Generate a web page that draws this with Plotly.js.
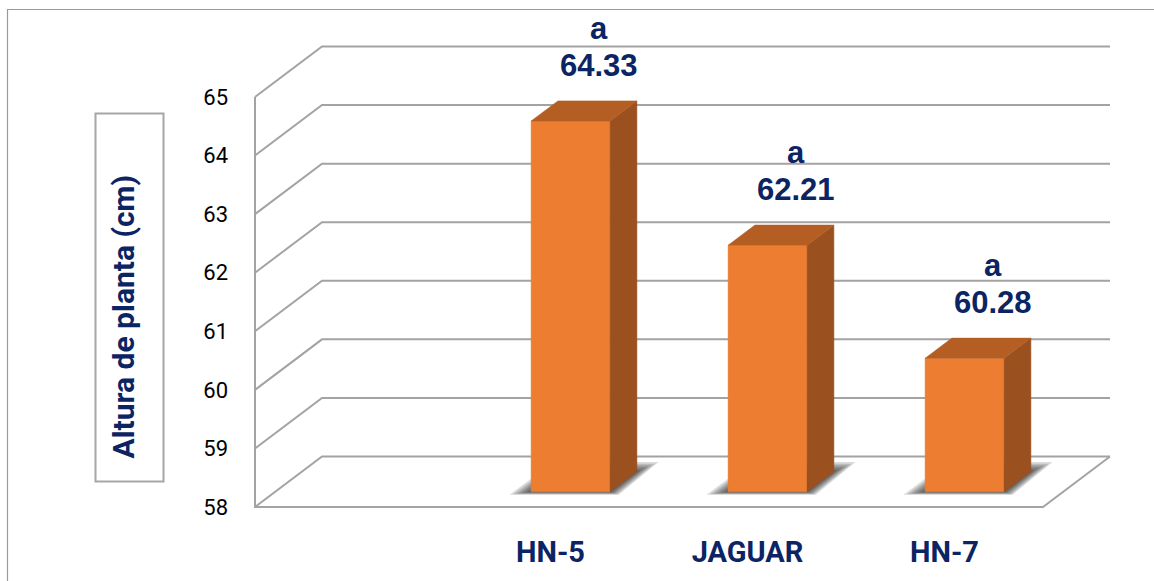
<!DOCTYPE html>
<html><head><meta charset="utf-8">
<script src="https://cdn.plot.ly/plotly-3.0.1.min.js"></script>
<style>html,body{margin:0;padding:0;background:#fff;}#chart{width:1154px;height:581px;}</style>
</head><body><div id="chart"></div>
<script>
// ---- data ----
const categories = ['HN-5', 'JAGUAR', 'HN-7'];
const values = [64.33, 62.21, 60.28];
const letters = ['a', 'a', 'a'];
const yTicks = [58, 59, 60, 61, 62, 63, 64, 65];
const yTitle = 'Altura de planta (cm)';

// ---- styling / geometry ----
const NAVY = '#0b2463';
const GRID = '#a3a3a3';
const W = 1154, H = 581;
const L = 240, R = 1125, T = 15, B = 520;        // plot area in px
const pxX = 197, x0px = 255, xStart = -1.5;       // one empty slot before first category
const pxY = 410 / 7, y0px = 507, yBase = yTicks[0];
const xEnd = categories.length - 0.5;
const xr = [xStart + (L - x0px) / pxX, xStart + (R - x0px) / pxX];
const yr = [yBase - (B - y0px) / pxY, yBase + (y0px - T) / pxY];
const DX = 67 / pxX, DY = 50.5 / pxY;              // full depth of the 3D box (data units)
const F = 0.3, D = 0.4, BW = 79 / pxX;             // bar plane depth, bar depth, bar width
const yTop = yTicks[yTicks.length - 1];
const pX = px => (px - L) / (R - L), pY = py => (B - py) / (B - T);

const shapes = [];
// back-wall + side-wall gridlines
yTicks.forEach(v => {
  shapes.push({type: 'path', xref: 'x', yref: 'y', layer: 'below',
    path: `M${xStart},${v} L${xStart + DX},${v + DY} L${xEnd + DX},${v + DY}`,
    line: {color: GRID, width: 2}});
});
// floor front edge and right edge, left vertical axis line
shapes.push({type: 'path', xref: 'x', yref: 'y', layer: 'below',
  path: `M${xStart},${yTop} L${xStart},${yBase} L${xEnd},${yBase} L${xEnd + DX},${yBase + DY}`,
  line: {color: GRID, width: 2}});
// y title box
shapes.push({type: 'rect', xref: 'paper', yref: 'paper', x0: pX(95.5), x1: pX(163.5), y0: pY(481.5), y1: pY(113.5),
  line: {color: '#a6a6a6', width: 2}});
// outer chart border
shapes.push({type: 'rect', xref: 'paper', yref: 'paper', x0: pX(7.5), x1: pX(1175), y0: pY(620), y1: pY(9.5),
  line: {color: '#9a9a9a', width: 1.2}});

const traces = [];
const base = yBase + F * DY;
const cx = categories.map((c, i) => i + F * DX);
const dDX = D * DX, dDY = D * DY;

// shadows (layered to look blurred)
categories.forEach((c, i) => {
  const xl = cx[i] - BW / 2, xrr = cx[i] + BW / 2;
  for (let k = 0; k < 6; k++) {
    const e = (6 - k) * 3.6 / pxX, ey = (6 - k) * 1.6 / pxY;
    traces.push({type: 'scatter', mode: 'none', fill: 'toself', hoverinfo: 'skip', showlegend: false,
      fillcolor: 'rgba(0,0,0,0.14)',
      x: [xl - e, xrr + e * 0.4, xrr + dDX + e, xl + dDX - e * 0.2, xl - e],
      y: [base - ey * 0.3, base - ey * 0.3, base + dDY + ey, base + dDY + ey, base - ey * 0.3]});
  }
});

// bar faces: front, side, top
categories.forEach((c, i) => {
  const xl = cx[i] - BW / 2, xrr = cx[i] + BW / 2, vt = values[i] + F * DY;
  traces.push({type: 'scatter', mode: 'lines', fill: 'toself', hoverinfo: 'skip', showlegend: false,
    fillcolor: '#ED7D31', line: {color: '#ED7D31', width: 0.5},
    x: [xl, xrr, xrr, xl, xl], y: [base, base, vt, vt, base]});
  traces.push({type: 'scatter', mode: 'lines', fill: 'toself', hoverinfo: 'skip', showlegend: false,
    fillcolor: '#9A501F', line: {color: '#9A501F', width: 0.5},
    x: [xrr, xrr, xrr + dDX, xrr + dDX, xrr], y: [base, vt, vt + dDY, base + dDY, base]});
  traces.push({type: 'scatter', mode: 'lines', fill: 'toself', hoverinfo: 'skip', showlegend: false,
    fillcolor: '#B45E24', line: {color: '#B45E24', width: 0.5},
    x: [xl, xrr, xrr + dDX, xl + dDX, xl], y: [vt, vt, vt + dDY, vt + dDY, vt]});
});

const annotations = [];
categories.forEach((c, i) => {
  const ax = cx[i] + 28.5 / pxX, ay = values[i] + F * DY;
  annotations.push({xref: 'x', yref: 'y', x: ax, y: ay, yshift: 56, yanchor: 'middle', showarrow: false,
    text: values[i].toFixed(2), font: {family: 'Liberation Sans, Arial', size: 31, weight: 'bold', color: NAVY}});
  annotations.push({xref: 'x', yref: 'y', x: ax, y: ay, yshift: 93, yanchor: 'middle', showarrow: false,
    text: letters[i], font: {family: 'Liberation Sans, Arial', size: 31, weight: 'bold', color: NAVY}});
});
annotations.push({xref: 'paper', yref: 'paper', x: pX(122.5), y: pY(317), textangle: -90, showarrow: false,
  xanchor: 'center', yanchor: 'middle',
  text: yTitle, font: {family: 'Roboto', size: 30, weight: 'bold', color: NAVY}});

const layout = {
  width: W, height: H, margin: {l: L, r: W - R, t: T, b: H - B},
  paper_bgcolor: '#fff', plot_bgcolor: 'rgba(0,0,0,0)', showlegend: false,
  xaxis: {range: xr, tickvals: categories.map((c, i) => i), ticktext: categories, showgrid: false,
    zeroline: false, showline: false, ticks: '', ticklabelstandoff: 12,
    tickfont: {family: 'Roboto', size: 29, weight: 'bold', color: NAVY}},
  yaxis: {range: yr, tickvals: yTicks, showgrid: false, zeroline: false, showline: false, ticks: '',
    ticklabelstandoff: 11, tickfont: {family: 'Roboto', size: 22, color: '#000'}},
  shapes: shapes, annotations: annotations
};
Plotly.newPlot('chart', traces, layout, {displayModeBar: false, staticPlot: true});
</script></body></html>
